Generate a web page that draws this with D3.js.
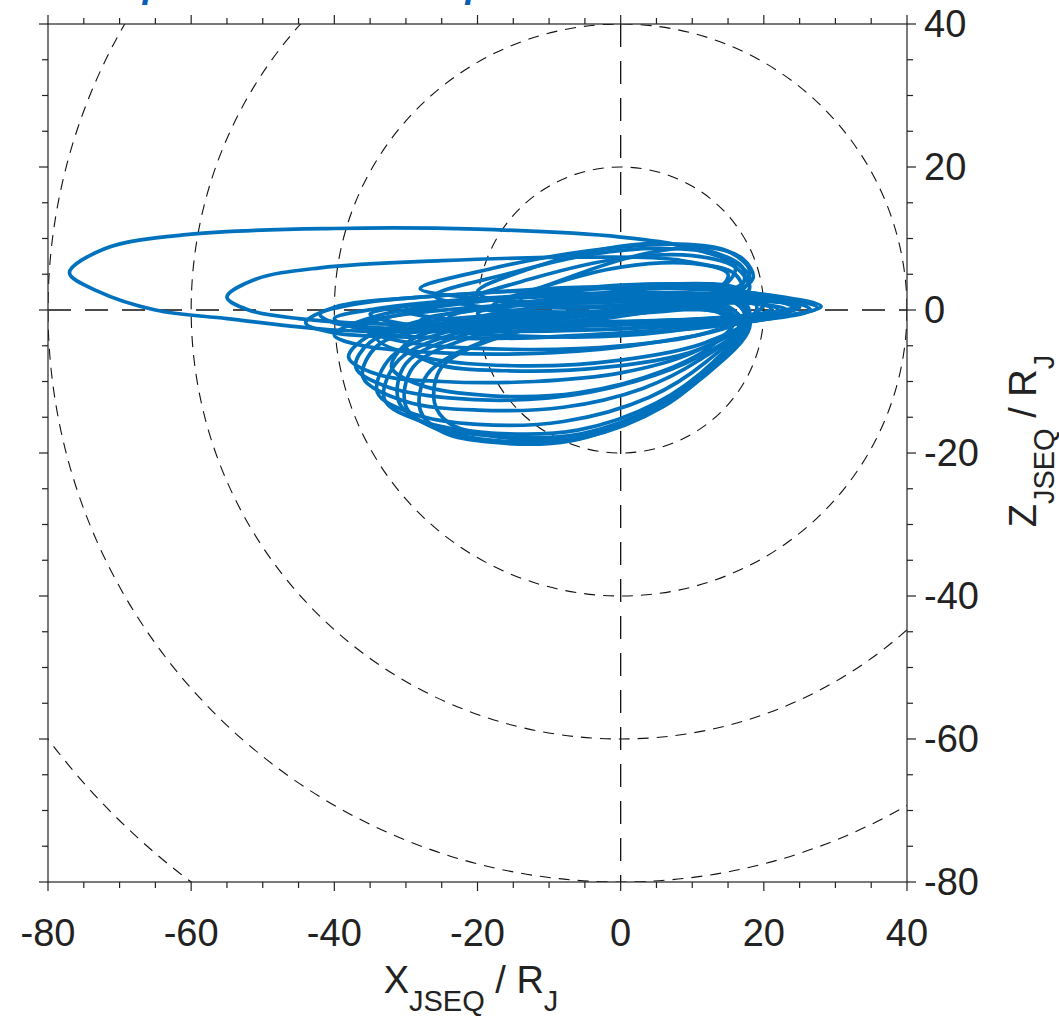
<!DOCTYPE html>
<html>
<head>
<meta charset="utf-8">
<script src="https://cdn.jsdelivr.net/npm/d3@7"></script>
<style>
  body { margin: 0; background: #fff; }
  text { font-family: "Liberation Sans", Arial, Helvetica, sans-serif; fill: #222; }
</style>
</head>
<body>
<div id="chart"></div>
<script>
const width = 1059;
const height = 1017;

// axis settings
const xDomain = [-80, 40];
const zDomain = [-80, 40];
const majorTicks = [-80, -60, -40, -20, 0, 20, 40];
const minorTicks = d3.range(-80, 41, 5);
const circleRadii = [20, 40, 60, 80, 100];

// orbit loops, [X, Z] in R_J
const loopBig1 = [[-77,5.2],[-72,8.6],[-60,10.6],[-40,11.4],[-20,11.3],[0,10.2],[10,8.6],[16,6],[14,3],[5,0.5],[-10,-2],[-25,-3],[-40,-2.8],[-55,-1.2],[-65,0],[-73,2.6]];
const loopBig2 = [[-55,1.8],[-51,4.3],[-42,5.9],[-25,6.9],[-5,7.4],[8,7],[15,5],[13,2.5],[3,0.5],[-12,-1.2],[-30,-2],[-45,-1.2],[-52,0]];

const flatLoops = [
  [[-44,-1.8],[-40,0.4],[-28,1.8],[-10,2.8],[8,3],[20,2.2],[28,0.5],[22,-1],[8,-2.8],[-10,-3.8],[-28,-3.8],[-40,-3.2]],
  [[-42,-0.6],[-36,1],[-22,2.2],[-5,3.2],[12,3],[22,1.8],[27.5,0.3],[20,-1.2],[5,-2.4],[-15,-3],[-32,-2.6],[-40,-1.8]],
  [[-40,-1.2],[-34,0.2],[-20,1.6],[0,2.4],[15,2.2],[24,1.2],[26.5,0],[18,-1.6],[0,-3.2],[-20,-4],[-34,-3.2]],
  [[-38,-2.2],[-30,-0.6],[-15,0.8],[0,1.8],[15,1.5],[25,0.6],[19,-0.6],[5,-1.5],[-15,-2],[-32,-2.6]],
  [[-35,-0.6],[-28,0.8],[-12,1.8],[5,2.2],[18,1.6],[25,0.4],[18,-1.2],[2,-2],[-18,-2.4],[-30,-2]],
  [[-30,-0.2],[-22,1.2],[-5,2.2],[12,2.2],[22,1.2],[24.5,0.2],[16,-1],[0,-1.6],[-20,-1.6]],
  [[-28,-1.5],[-20,0],[-6,1.2],[8,1.5],[18,1],[21,0.2],[14,-1.8],[0,-3.6],[-15,-3.6],[-25,-2.8]],
  [[-24,-1],[-16,0.6],[0,1.4],[15,1.2],[23,0.2],[15,-1],[-2,-2],[-18,-2.4]],
  [[-20,-0.5],[-12,1],[0,2],[12,1.8],[20,0.8],[22,0],[14,-1.2],[0,-2.6],[-12,-2.4]],
  [[-40,-3.5],[-34,-0.8],[-18,1.5],[0,3.5],[14,3.2],[20,1],[16,-2],[5,-4.5],[-10,-6],[-25,-6],[-36,-5]],
  [[-36,-2.5],[-28,0],[-12,2],[5,3.6],[17,2.8],[19,0],[12,-3.2],[0,-5],[-15,-5.5],[-30,-4.5]],
  [[-34,-4],[-26,-1],[-10,1.5],[5,3],[16,2.5],[18,-1],[12,-4.5],[0,-7],[-15,-7.8],[-28,-6.5]],
  [[-30,-5],[-22,-1.5],[-8,0.8],[8,2],[17,1.5],[17.5,-1.5],[11,-5.5],[-2,-8],[-16,-8.5],[-26,-7.5]]
];

const upperLoops = [
  [[-20,2.5],[-12,6],[-2,8.6],[5,9.3],[12,8.4],[17,6],[17,3.5],[12,1.8],[0,0.5],[-12,0.5]],
  [[-26,2],[-16,5],[-4,7.8],[6,8.6],[14,7.6],[18,4.6],[16,2],[8,0.5],[-8,-0.3],[-20,0.5]],
  [[-28,3],[-18,5.8],[-5,8.2],[8,9.2],[15,8.2],[18,5.5],[16,3],[6,1.5],[-10,1],[-22,1.8]],
  [[-22,1],[-12,4.5],[0,7.2],[10,7.6],[16,6],[18,3],[14,1],[2,-0.5],[-14,-0.5]],
  [[-14,1.5],[-6,5],[4,8],[12,8.8],[17,7.2],[18.5,4.5],[15,2.2],[5,1],[-8,0.6]],
  [[-18,0.5],[-10,3.5],[0,6],[10,6.5],[16,5],[17,2.5],[12,0.8],[0,-0.3],[-12,-0.5]]
];

const lowerLoops = [
  [[-38,-6.6],[-35,-3.5],[-26,-1.5],[-10,-0.5],[5,0],[14,-0.5],[15.5,-2.5],[10,-6],[0,-8.8],[-12,-10],[-25,-10],[-34,-9]],
  [[-37,-8],[-35,-4.5],[-26,-2],[-10,-0.8],[6,0.3],[15,0],[16.5,-2.5],[11,-6.5],[2,-10],[-10,-12.3],[-24,-12.3],[-33,-10.6]],
  [[-32,-8],[-29,-4],[-20,-2],[-5,-0.5],[10,0.2],[16,-1.2],[13,-4.8],[6,-8.5],[-6,-11.6],[-18,-12],[-28,-10.5]],
  [[-36,-9.4],[-34,-5],[-26,-2.5],[-12,-1],[4,0],[14,0],[16.5,-2.5],[11,-7],[3,-11],[-8,-13.6],[-20,-14],[-30,-12.8]],
  [[-34,-11.5],[-32,-6.5],[-24,-3],[-10,-1],[5,0.5],[15,0.5],[17,-2],[12,-7.2],[4,-12.2],[-8,-15.6],[-20,-16],[-29,-14.5]],
  [[-33,-12.5],[-31,-7],[-22,-3],[-8,-1],[6,0.8],[16,1],[17.5,-1.6],[13,-7.2],[5,-13],[-6,-16.8],[-18,-17.2],[-28,-15.5]],
  [[-31,-12.8],[-30,-7.5],[-21,-3.2],[-7,-1],[7,0.6],[16.5,1],[18,-1.8],[13,-7.5],[5,-13.4],[-5.5,-17.3],[-17,-17.7],[-27,-16]],
  [[-30,-13.5],[-29,-8],[-20,-3.5],[-6,-1],[8,0.8],[17,1.2],[18,-1.6],[13,-7.8],[6,-13.5],[-5,-17.8],[-17,-18.3],[-26,-16.5]],
  [[-28,-14],[-27,-9],[-18,-4],[-4,-1.5],[10,0.5],[17,1],[18,-2.5],[12,-9],[4,-14.3],[-7,-18.3],[-18,-18.5],[-25,-17]],
  [[-26,-13],[-25,-8],[-16,-3.5],[-2,-1],[11,0.6],[17.5,0.5],[17.5,-3],[11,-9.2],[3,-14.6],[-8,-17.9],[-18,-17.6],[-24,-15.8]]
];

const loops = [loopBig1, loopBig2, ...flatLoops, ...upperLoops, ...lowerLoops];

const plotLeft = 48, plotRight = 907, plotTop = 24, plotBottom = 882;

const x = d3.scaleLinear().domain(xDomain).range([plotLeft, plotRight]);
const y = d3.scaleLinear().domain(zDomain).range([plotBottom, plotTop]);

const svg = d3.select('#chart')
    .append('svg')
    .attr('width', width)
    .attr('height', height)

svg.append('clipPath')
    .attr('id', 'plotclip')
    .append('rect')
    .attr('x', plotLeft)
    .attr('y', plotTop)
    .attr('width', plotRight - plotLeft)
    .attr('height', plotBottom - plotTop)

// title, mostly cut off at the top edge (as in the source figure)
svg.append('text')
    .attr('x', 118)
    .attr('y', -3)
    .style('font-size', '37px')
    .style('font-weight', 'bold')
    .style('font-style', 'italic')
    .style('fill', '#0a5fb4')
    .text('Spacecraft orbit loops')

const g = svg.append('g').attr('clip-path', 'url(#plotclip)')

// dashed reference circles
g.selectAll('ellipse.ring')
    .data(circleRadii)
    .enter()
    .append('ellipse')
    .attr('class', 'ring')
    .attr('cx', x(0))
    .attr('cy', y(0))
    .attr('rx', d => x(d) - x(0))
    .attr('ry', d => y(0) - y(d))
    .attr('fill', 'none')
    .attr('stroke', '#111')
    .attr('stroke-width', 1.1)
    .attr('stroke-dasharray', '11,8')

// dashed zero lines
g.append('line')
    .attr('x1', x(xDomain[0])).attr('x2', x(xDomain[1]))
    .attr('y1', y(0)).attr('y2', y(0))
    .attr('stroke', '#111')
    .attr('stroke-width', 1.3)
    .attr('stroke-dasharray', '23,14')
g.append('line')
    .attr('x1', x(0)).attr('x2', x(0))
    .attr('y1', y(zDomain[1])).attr('y2', y(zDomain[0]))
    .attr('stroke', '#111')
    .attr('stroke-width', 1.3)
    .attr('stroke-dasharray', '23,14')

// trajectory
const line = d3.line()
    .x(d => x(d[0]))
    .y(d => y(d[1]))
    .curve(d3.curveCatmullRomClosed.alpha(0.5))

g.selectAll('path.orbit')
    .data(loops)
    .enter()
    .append('path')
    .attr('class', 'orbit')
    .attr('d', line)
    .attr('fill', 'none')
    .attr('stroke', '#0072BD')
    .attr('stroke-width', 3.7)
    .attr('stroke-linejoin', 'round')

// box
svg.append('rect')
    .attr('x', plotLeft)
    .attr('y', plotTop)
    .attr('width', plotRight - plotLeft)
    .attr('height', plotBottom - plotTop)
    .attr('fill', 'none')
    .attr('stroke', '#222')
    .attr('stroke-width', 1.2)

// ticks on all four sides, pointing out
const tickLen = d => majorTicks.includes(d) ? 9 : 6;
const ticks = svg.append('g').attr('stroke', '#222').attr('stroke-width', 1.2)

ticks.selectAll('line.tb')
    .data(minorTicks)
    .enter()
    .append('line')
    .attr('x1', d => x(d)).attr('x2', d => x(d))
    .attr('y1', plotTop).attr('y2', d => plotTop - tickLen(d))
ticks.selectAll('line.bb')
    .data(minorTicks)
    .enter()
    .append('line')
    .attr('x1', d => x(d)).attr('x2', d => x(d))
    .attr('y1', plotBottom).attr('y2', d => plotBottom + tickLen(d))
ticks.selectAll('line.lb')
    .data(minorTicks)
    .enter()
    .append('line')
    .attr('y1', d => y(d)).attr('y2', d => y(d))
    .attr('x1', plotLeft).attr('x2', d => plotLeft - tickLen(d))
ticks.selectAll('line.rb')
    .data(minorTicks)
    .enter()
    .append('line')
    .attr('y1', d => y(d)).attr('y2', d => y(d))
    .attr('x1', plotRight).attr('x2', d => plotRight + tickLen(d))

// tick labels
svg.selectAll('text.xt')
    .data(majorTicks)
    .enter()
    .append('text')
    .attr('class', 'xt')
    .attr('x', d => x(d))
    .attr('y', 946)
    .attr('text-anchor', 'middle')
    .style('font-size', '38px')
    .text(d => d)

svg.selectAll('text.yt')
    .data(majorTicks)
    .enter()
    .append('text')
    .attr('class', 'yt')
    .attr('x', 924)
    .attr('y', d => y(d) + 13)
    .style('font-size', '38px')
    .text(d => d)

// axis labels
const xl = svg.append('text')
    .attr('x', 471)
    .attr('y', 993)
    .attr('text-anchor', 'middle')
    .style('font-size', '38px')
xl.append('tspan').text('X')
xl.append('tspan').attr('dy', 18).style('font-size', '29px').text('JSEQ')
xl.append('tspan').attr('dy', -18).text(' / R')
xl.append('tspan').attr('dy', 18).style('font-size', '29px').text('J')

const zl = svg.append('text')
    .attr('transform', 'translate(1036,441) rotate(-90)')
    .attr('text-anchor', 'middle')
    .style('font-size', '38px')
zl.append('tspan').text('Z')
zl.append('tspan').attr('dy', 18).style('font-size', '29px').text('JSEQ')
zl.append('tspan').attr('dy', -18).text(' / R')
zl.append('tspan').attr('dy', 18).style('font-size', '29px').text('J')
</script>
</body>
</html>
